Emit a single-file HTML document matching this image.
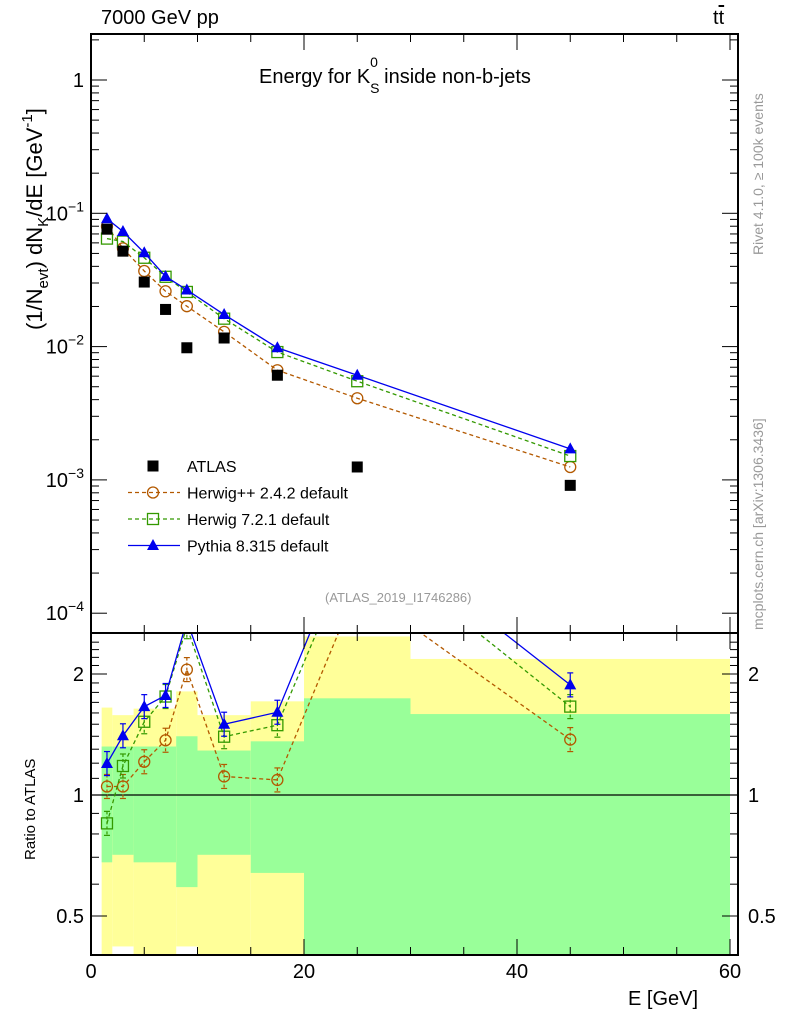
<!DOCTYPE html>
<html><head><meta charset="utf-8"><style>
body{margin:0;background:#fff;}
svg{display:block;font-family:"Liberation Sans",Arial,sans-serif;}
</style></head><body>
<svg id="c" width="786" height="1024" viewBox="0 0 786 1024"></svg>
<script>
const energies=[1.5,3,5,7,9,12.5,17.5,25,45];
const atlas=[0.076,0.052,0.0305,0.019,0.0098,0.0116,0.0061,0.00125,0.00091];
const herwigpp=[0.0798,0.0546,0.0369,0.026,0.0201,0.0129,0.00665,0.0041,0.00125];
const herwig7=[0.0646,0.0614,0.0464,0.0334,0.0257,0.0162,0.0091,0.0055,0.00151];
const pythia=[0.091,0.073,0.0506,0.0336,0.0266,0.0174,0.0098,0.0061,0.00171];
const binEdges=[1,2,4,8,10,15,20,30,60];
const yellowHi=[1.65,1.58,1.64,1.81,1.58,1.71,2.48,2.18];
const yellowLo=[0.38,0.42,0.38,0.42,0.38,0.38,0.38,0.38];
const greenHi=[1.32,1.32,1.32,1.40,1.29,1.36,1.74,1.59];
const greenLo=[0.68,0.71,0.68,0.59,0.71,0.64,0.38,0.38];
const xTicks=[0,20,40,60];
const yTicksMain=[-4,-3,-2,-1,0];
const yTicksRatio=[0.5,1,2];

const NS="http://www.w3.org/2000/svg";
const svg=document.getElementById('c');
function el(t,a,p){const e=document.createElementNS(NS,t);for(const k in a)e.setAttribute(k,a[k]);(p||svg).appendChild(e);return e;}
const L=91,R=738,T=34,MB=633,RB=955;
const X=v=>L+v*10.65;
const Y=v=>80-Math.log10(v)*133.3;
const YR=v=>795-Math.log2(v)*121;
const clampR=y=>Math.max(MB,Math.min(RB,y));

const bands=el('g',{});


for(let i=0;i<binEdges.length-1;i++){
  const x0=X(binEdges[i]),x1=X(binEdges[i+1]);
  let y0=clampR(YR(yellowHi[i])),y1=clampR(YR(yellowLo[i]));
  const r=el('rect',{x:x0,y:y0,width:x1-x0,height:y1-y0,fill:'#ffff99'},bands);
  
  
  y0=clampR(YR(greenHi[i]));y1=clampR(YR(greenLo[i]));
  const g=el('rect',{x:x0,y:y0,width:x1-x0,height:y1-y0,fill:'#99ff99'},bands);
  
  
}
el('line',{x1:L,x2:R,y1:YR(1),y2:YR(1),stroke:'#000','stroke-width':1.3});

const defs=el('defs',{});
const cp1=el('clipPath',{id:'cm'},defs);el('rect',{x:L,y:T,width:R-L,height:MB-T},cp1);
const cp2=el('clipPath',{id:'cr'},defs);el('rect',{x:L,y:MB,width:R-L,height:RB-MB},cp2);

const series=[
 {name:'herwigpp',vals:herwigpp,col:'#b35900',dash:'4,3',mk:'circle'},
 {name:'herwig7',vals:herwig7,col:'#339900',dash:'4,3',mk:'square'},
 {name:'pythia',vals:pythia,col:'#0000ee',dash:'',mk:'tri'}];
function marker(g,mk,x,y,col){
  let m;
  if(mk==='circle')m=el('circle',{cx:x,cy:y,r:5.5,fill:'none',stroke:col,'stroke-width':1.3},g);
  else if(mk==='square')m=el('rect',{x:x-5.5,y:y-5.5,width:11,height:11,fill:'none',stroke:col,'stroke-width':1.3},g);
  else if(mk==='tri')m=el('polygon',{points:`${x},${y-6.5} ${x-6},${y+4.5} ${x+6},${y+4.5}`,fill:col},g);
  else m=el('rect',{x:x-5.5,y:y-5.5,width:11,height:11,fill:'#000'},g);
  
  
}
series.forEach(s=>{
  const g=el('g',{'clip-path':'url(#cm)'});
  
  
  el('polyline',{points:energies.map((e,i)=>X(e)+','+Y(s.vals[i])).join(' '),fill:'none',stroke:s.col,'stroke-width':1.3,'stroke-dasharray':s.dash},g);
  energies.forEach((e,i)=>marker(g,s.mk,X(e),Y(s.vals[i]),s.col));
  const gr=el('g',{'clip-path':'url(#cr)'});
  
  
  const rat=s.vals.map((v,i)=>v/atlas[i]);
  el('polyline',{points:energies.map((e,i)=>X(e)+','+YR(rat[i])).join(' '),fill:'none',stroke:s.col,'stroke-width':1.3,'stroke-dasharray':s.dash},gr);
  energies.forEach((e,i)=>{
    const y=YR(rat[i]);
    el('line',{x1:X(e),x2:X(e),y1:y-12,y2:y+12,stroke:s.col,'stroke-width':1.2,'stroke-dasharray':s.dash?'3,2':''},gr);
    el('line',{x1:X(e)-3,x2:X(e)+3,y1:y-12,y2:y-12,stroke:s.col,'stroke-width':1.2},gr);
    el('line',{x1:X(e)-3,x2:X(e)+3,y1:y+12,y2:y+12,stroke:s.col,'stroke-width':1.2},gr);
    marker(gr,s.mk,X(e),y,s.col);
  });
});
const ga=el('g',{});


energies.forEach((e,i)=>marker(ga,'data',X(e),Y(atlas[i]),'#000'));

el('rect',{x:L,y:T,width:R-L,height:MB-T,fill:'none',stroke:'#000','stroke-width':2});
el('rect',{x:L,y:MB,width:R-L,height:RB-MB,fill:'none',stroke:'#000','stroke-width':2});

for(let v=0;v<=60;v+=5){
  const big=v%20===0, x=X(v);
  [[T,1],[MB,-1],[MB,1],[RB,-1]].forEach(([y,d])=>el('line',{x1:x,x2:x,y1:y,y2:y+d*(big?16:8),stroke:'#000'}));
}
xTicks.forEach(v=>{const t=el('text',{x:X(v),y:978,'font-size':20,'text-anchor':'middle'});t.textContent=v;

});
for(let d=-4;d<=0;d++){
  for(let m=1;m<10;m++){
    const y=Y(m*Math.pow(10,d)); if(y<T||y>MB)continue;
    const len=m===1?16:8;
    el('line',{x1:L,x2:L+len,y1:y,y2:y,stroke:'#000'});
    el('line',{x1:R,x2:R-len,y1:y,y2:y,stroke:'#000'});
  }
}
yTicksMain.forEach(d=>{
  const y=Y(Math.pow(10,d));
  const t=el('text',{x:84,y:y+7,'font-size':20,'text-anchor':'end'});
  
  
  if(d===0)t.textContent='1';
  else{t.textContent='10';const s=el('tspan',{dy:-9,'font-size':14},t);s.textContent=String(d).replace('-','\u2212');}
});
for(let v=0.4;v<=2.5;v+=0.1){
  const y=YR(v); if(y<MB||y>RB)continue;
  const big=[0.5,1,2].some(b=>Math.abs(b-v)<1e-6);
  el('line',{x1:L,x2:L+(big?16:8),y1:y,y2:y,stroke:'#000'});
  el('line',{x1:R,x2:R-(big?16:8),y1:y,y2:y,stroke:'#000'});
}
yTicksRatio.forEach(v=>{
  const y=YR(v);
  const t=el('text',{x:84,y:y+7,'font-size':20,'text-anchor':'end'});t.textContent=v;
  
  
  const t2=el('text',{x:748,y:y+7,'font-size':20});t2.textContent=v;
  
  
});

const leg=el('g',{});


const legItems=[['ATLAS','data','#000',''],['Herwig++ 2.4.2 default','circle','#b35900','4,3'],['Herwig 7.2.1 default','square','#339900','4,3'],['Pythia 8.315 default','tri','#0000ee','']];
legItems.forEach((it,i)=>{
  const y=466+i*26.5;
  const g=el('g',{},leg);
  
  
  if(i>0)el('line',{x1:128,x2:180,y1:y,y2:y,stroke:it[2],'stroke-width':1.3,'stroke-dasharray':it[3]},g);
  marker(g,it[1],153,y,it[2]);
  const t=el('text',{x:187,y:y+6,'font-size':16},g);t.textContent=it[0];
});

// y-axis title
const yt=el('text',{x:0,y:0,'font-size':22,transform:'translate(42,330) rotate(-90)'});


const parts=[['(1/N',0,22],['evt',6,15],[') dN',-6,22],['K',6,15],['/dE [GeV',-6,22],['-1',-10,15],[']',10,22]];
parts.forEach(p=>{const s=el('tspan',{dy:p[1],'font-size':p[2]},yt);s.textContent=p[0];});
</script>
<div style="position:absolute;left:0;top:0;width:786px;height:1024px;pointer-events:none;font-family:'Liberation Sans',Arial,sans-serif;">
<div style="position:absolute;left:101px;top:7px;font-size:20px;">7000 GeV pp</div>
<div style="position:absolute;left:713px;top:7px;font-size:20px;">t<span style="text-decoration:overline">t</span></div>
<div style="position:absolute;left:259px;top:66px;font-size:20px;white-space:nowrap;">Energy for K<span style="position:relative;"><sub style="font-size:14px;position:absolute;left:0;top:14px;">S</sub><sup style="font-size:14px;position:absolute;left:0;top:-12px;">0</sup></span><span style="margin-left:14px">inside non-b-jets</span></div>
<div style="position:absolute;left:22px;top:860px;transform-origin:0 0;transform:rotate(-90deg);font-size:15px;white-space:nowrap;">Ratio to ATLAS</div>
<div style="position:absolute;left:628px;top:988px;font-size:20px;">E [GeV]</div>
<div style="position:absolute;left:325px;top:590px;font-size:13px;color:#999;">(ATLAS_2019_I1746286)</div>
<div style="position:absolute;left:750px;top:255px;transform-origin:0 0;transform:rotate(-90deg);font-size:14px;color:#999;white-space:nowrap;">Rivet 4.1.0, ≥ 100k events</div>
<div style="position:absolute;left:750px;top:630px;transform-origin:0 0;transform:rotate(-90deg);font-size:14px;color:#999;white-space:nowrap;">mcplots.cern.ch [arXiv:1306.3436]</div>
</div>
</body></html>
